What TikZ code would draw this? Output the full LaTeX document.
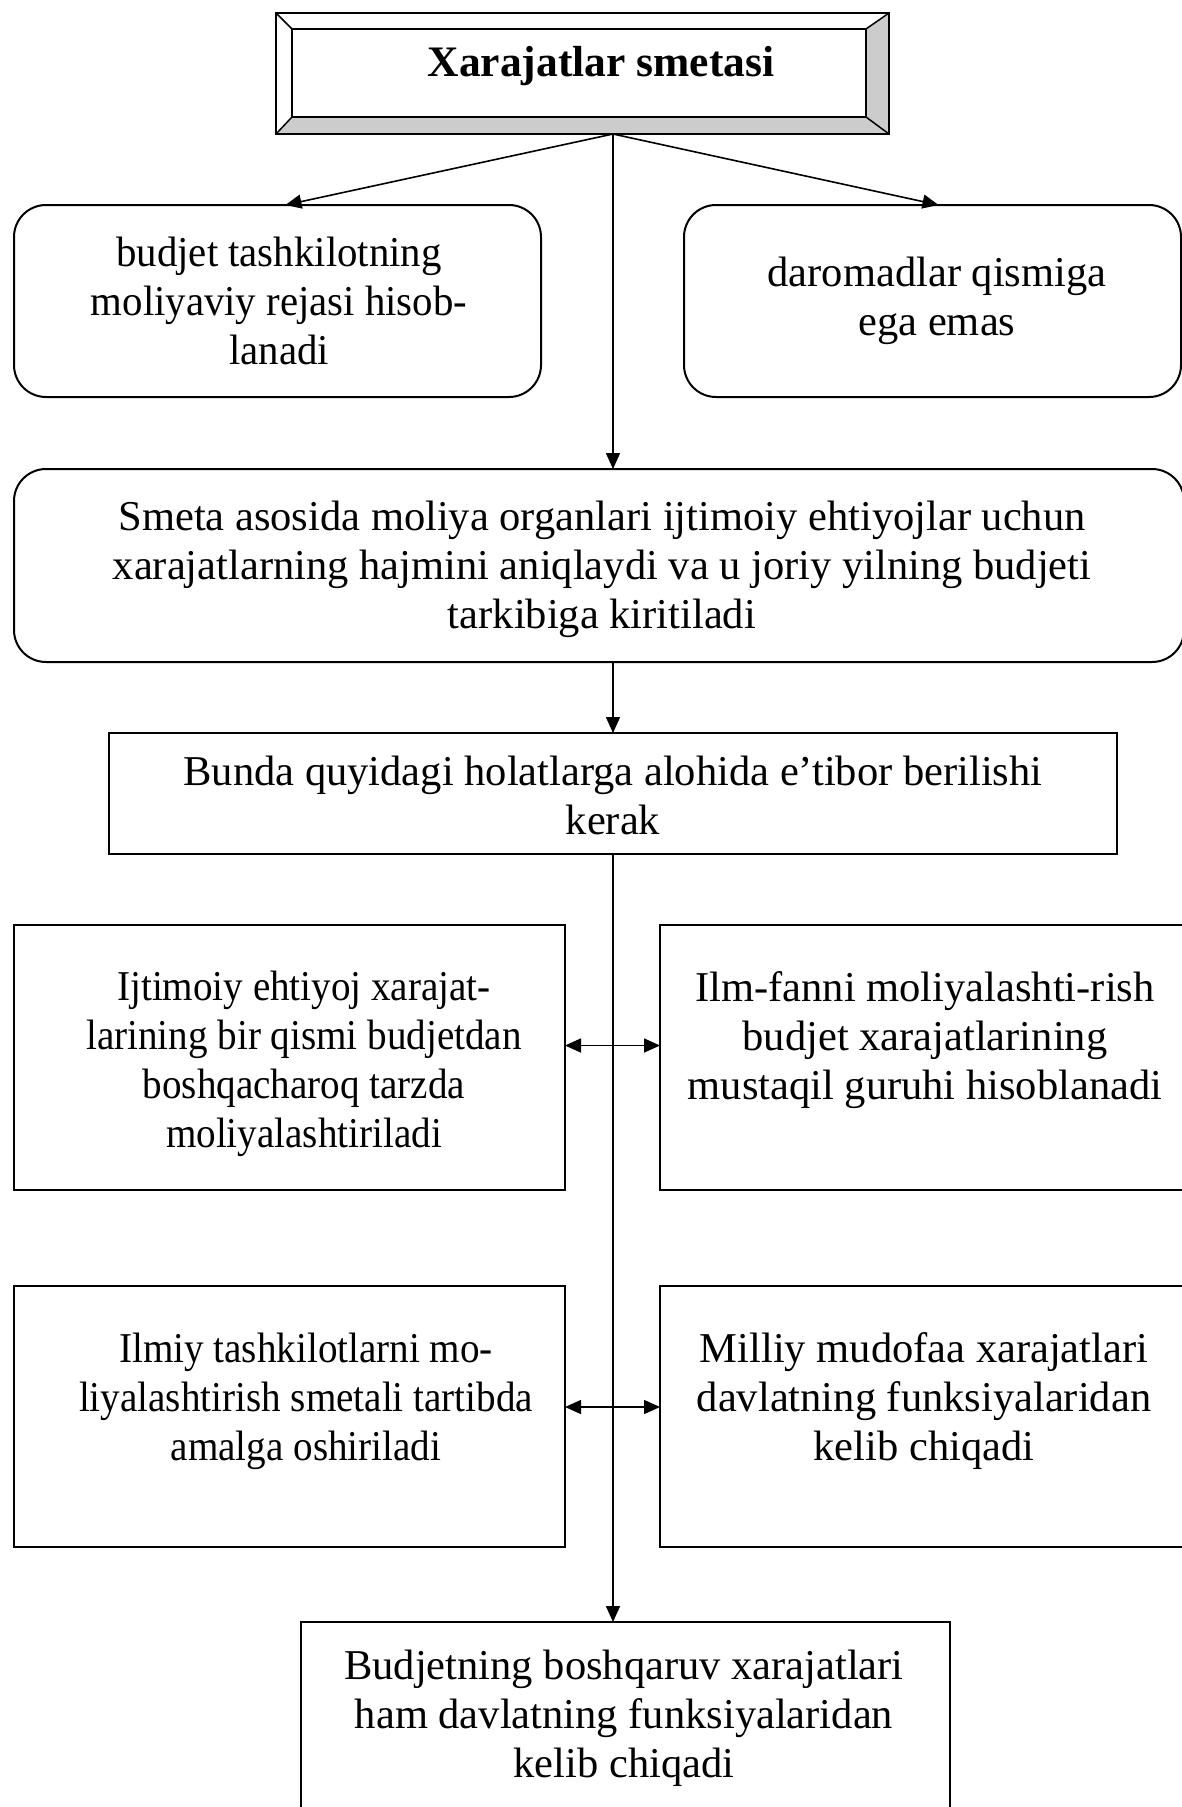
\documentclass[tikz,border=0pt]{standalone}
\usepackage{fontspec}
\setmainfont{Liberation Serif}
\newfontfamily\condA[FakeStretch=0.92]{Liberation Serif}
\newfontfamily\condB[FakeStretch=0.96]{Liberation Serif}
\usetikzlibrary{arrows.meta}
\begin{document}
\begin{tikzpicture}[x=1pt,y=-1pt,
  boxbase/.style={draw=black, line width=2pt, inner sep=0pt, outer sep=0pt},
  rbox/.style={boxbase, rounded corners=32pt},
  sbox/.style={boxbase},
  txt/.style={align=center, inner sep=0pt, font=\fontsize{42.5}{49}\selectfont},
  ctxtA/.style={align=center, inner sep=0pt, font=\condA\fontsize{42.5}{49}\selectfont},
  ctxtB/.style={align=center, inner sep=0pt, font=\condB\fontsize{42.5}{49}\selectfont},
  conn/.style={line width=1.6pt, -{Triangle[length=16pt,width=14pt]}},
  dconn/.style={line width=1.6pt, {Triangle[length=16pt,width=14pt]}-{Triangle[length=16pt,width=14pt]}},
  bevelgray/.style={fill=black!20}
]
\useasboundingbox (0,0) rectangle (1182,1807);
\fill[white] (0,0) rectangle (1182,1807);

% title bevel box
\fill[bevelgray] (276,134) -- (889,134) -- (866,117) -- (292,117) -- cycle;
\fill[bevelgray] (889,13) -- (889,134) -- (866,117) -- (866,29) -- cycle;
\node[sbox, minimum width=613pt, minimum height=121pt] (tb) at (582.5,73.5) {};
\draw[line width=2pt] (292,29) rectangle (866,117);
\draw[line width=1.5pt] (276,13) -- (292,29) (889,13) -- (866,29) (276,134) -- (292,117) (889,134) -- (866,117);
\node[anchor=base, inner sep=0pt, font=\bfseries\fontsize{43.5}{49}\selectfont] (tt) at (601,76) {Xarajatlar smetasi};
\coordinate (o) at (613,134);

% top rounded boxes
\node[rbox, minimum width=527pt, minimum height=192pt] (lb) at (277.5,301) {};
\node[ctxtB] (lbt) at (279,301) {budjet tashkilotning\\moliyaviy rejasi hisob-\\lanadi};
\node[rbox, minimum width=497pt, minimum height=192pt] (rb) at (932.5,301) {};
\node[txt] (rbt) at (937,301) {daromadlar qismiga\\ega emas};

% smeta box
\node[rbox, minimum width=1170pt, minimum height=193pt] (sm) at (599,565.5) {};
\node[txt] (smt) at (602,569) {Smeta asosida moliya organlari ijtimoiy ehtiyojlar uchun\\xarajatlarning hajmini aniqlaydi va u joriy yilning budjeti\\tarkibiga kiritiladi};

% bunda box
\node[sbox, minimum width=1008pt, minimum height=121pt] (bu) at (613,793.5) {};
\node[txt] (but) at (613,795) {Bunda quyidagi holatlarga alohida e’tibor berilishi\\kerak};

% row 1
\node[sbox, minimum width=551pt, minimum height=265pt] (r1l) at (289.5,1057.5) {};
\node[ctxtA] (r1lt) at (304,1064) {Ijtimoiy ehtiyoj xarajat-\\larining bir qismi budjetdan\\boshqacharoq tarzda\\moliyalashtiriladi};
\node[sbox, minimum width=530pt, minimum height=265pt] (r1r) at (925,1057.5) {};
\node[txt] (r1rt) at (925,1040) {Ilm-fanni moliyalashti-rish\\budjet xarajatlarining\\mustaqil guruhi hisoblanadi};

% row 2
\node[sbox, minimum width=551pt, minimum height=261pt] (r2l) at (289.5,1416.5) {};
\node[ctxtA] (r2lt) at (306,1401) {Ilmiy tashkilotlarni mo-\\liyalashtirish smetali tartibda\\amalga oshiriladi};
\node[sbox, minimum width=530pt, minimum height=261pt] (r2r) at (925,1416.5) {};
\node[txt] (r2rt) at (924,1401) {Milliy mudofaa xarajatlari\\davlatning funksiyalaridan\\kelib chiqadi};

% final box
\node[sbox, minimum width=649pt, minimum height=190pt] (fi) at (625.5,1717) {};
\node[txt] (fit) at (624,1718) {Budjetning boshqaruv xarajatlari\\ham davlatning funksiyalaridan\\kelib chiqadi};

% connectors
\draw[conn] (o) -- ([xshift=8pt]lb.north);
\draw[conn] (o) -- ([xshift=6pt]rb.north);
\draw[conn] (o) -- (o |- sm.north);
\draw[conn] (sm.south -| o) -- (bu.north -| o);
\draw[conn] (bu.south -| o) -- (fi.north -| o);
\draw[dconn] ([yshift=12pt]r1l.east) -- ([yshift=12pt]r1r.west);
\draw[dconn] ([yshift=9.5pt]r2l.east) -- ([yshift=9.5pt]r2r.west);
\end{tikzpicture}
\end{document}
